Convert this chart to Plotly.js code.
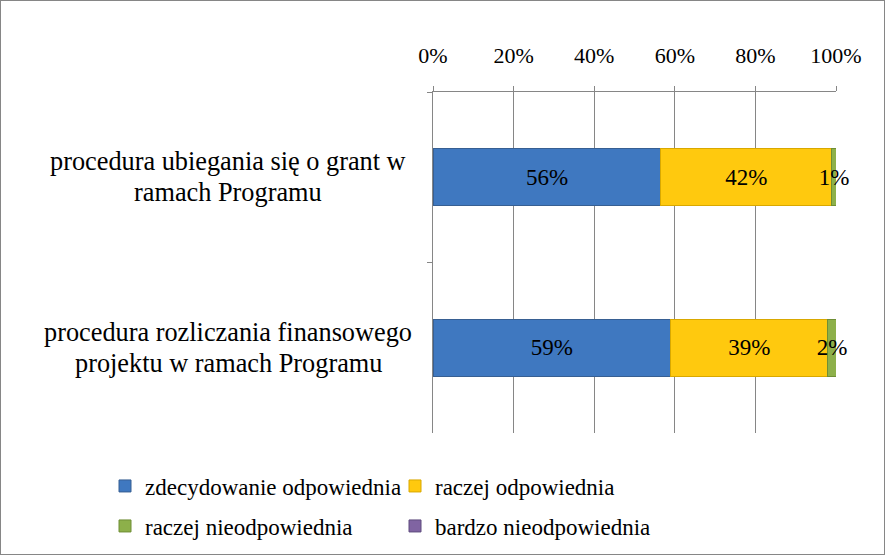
<!DOCTYPE html>
<html>
<head>
<meta charset="utf-8">
<script src="https://cdn.plot.ly/plotly-3.0.1.min.js"></script>
<style>
  body { margin: 0; background: #fff; }
  #chart { width: 885px; height: 555px; border: 1px solid #868686; box-sizing: border-box; }
</style>
</head>
<body>
<div id="chart"></div>
<script>
// categories, top to bottom
const categories = [
    'procedura ubiegania się o grant w<br>ramach Programu',
    'procedura rozliczania finansowego<br>projektu w ramach Programu'
];

// series names
const seriesNames = [
    'zdecydowanie odpowiednia',
    'raczej odpowiednia',
    'raczej nieodpowiednia',
    'bardzo nieodpowiednia'
];

// percentages per series, one value per category
const zdecydowanieOdp = [56, 59];
const raczejOdp = [42, 39];
const raczejNieodp = [1, 2];
const bardzoNieodp = [0, 0];

const seriesValues = [zdecydowanieOdp, raczejOdp, raczejNieodp, bardzoNieodp];
const seriesColors = ['#3F78C0', '#FFC90E', '#8DB04A', '#8064A2'];
const seriesLines = ['#375F92', '#D9A800', '#6F8E35', '#5F4B7E'];

const xTicks = [0, 20, 40, 60, 80, 100];

const SERIF = '"Liberation Serif", "Times New Roman", "DejaVu Serif", serif';
const mkFont = (size) => ({ family: SERIF, size: size, color: '#000000' });

const traces = seriesNames.map((name, i) => ({
    type: 'bar',
    orientation: 'h',
    name: name,
    y: categories,
    x: seriesValues[i],
    text: seriesValues[i].map(v => v > 0 ? v + '%' : ''),
    textposition: 'inside',
    insidetextanchor: 'middle',
    textangle: 0,
    textfont: mkFont(23),
    constraintext: 'none',
    cliponaxis: false,
    hoverinfo: 'skip',
    marker: { color: seriesColors[i], line: { color: seriesLines[i], width: 1 } },
    legend: i < 2 ? 'legend' : 'legend2'
}));

// category labels drawn as centred annotations, one per line
const annotations = [];
categories.forEach(cat => {
    const lines = cat.split('<br>');
    lines.forEach((line, j) => {
        annotations.push({
            xref: 'paper', yref: 'y',
            x: 0, y: cat,
            xanchor: 'center', yanchor: 'middle',
            xshift: -205,
            yshift: (lines.length - 1) * 15.5 - j * 31,
            text: line,
            showarrow: false,
            font: mkFont(26.3)
        });
    });
});

const legendX = (104 - 432) / 403;

const layout = {
    width: 883,
    height: 553,
    margin: { l: 432, r: 48, t: 91, b: 121, autoexpand: false },
    paper_bgcolor: '#fff',
    plot_bgcolor: '#fff',
    barmode: 'stack',
    barnorm: 'percent',
    bargap: 0.665,
    font: mkFont(22),
    uniformtext: { mode: 'show', minsize: 23 },
    xaxis: {
        side: 'top',
        range: [0, 100],
        tickvals: xTicks,
        ticktext: xTicks.map(t => t + '%'),
        tickfont: mkFont(22),
        ticks: 'outside',
        ticklen: 5,
        tickcolor: '#868686',
        ticklabelstandoff: 14,
        showgrid: true,
        gridcolor: '#868686',
        gridwidth: 1,
        showline: true,
        linecolor: '#868686',
        zeroline: false,
        fixedrange: true
    },
    yaxis: {
        type: 'category',
        autorange: 'reversed',
        showticklabels: false,
        ticks: 'outside',
        tickson: 'boundaries',
        ticklen: 5,
        tickcolor: '#868686',
        showgrid: false,
        showline: true,
        linecolor: '#868686',
        zeroline: false,
        fixedrange: true
    },
    showlegend: true,
    legend: {
        orientation: 'h',
        x: legendX, y: -53 / 341,
        xanchor: 'left', yanchor: 'middle',
        entrywidth: 245,
        font: mkFont(23),
        traceorder: 'normal'
    },
    legend2: {
        orientation: 'h',
        x: legendX, y: -93 / 341,
        xanchor: 'left', yanchor: 'middle',
        entrywidth: 245,
        font: mkFont(23),
        traceorder: 'normal'
    },
    annotations: annotations
};

Plotly.newPlot('chart', traces, layout, { displayModeBar: false, staticPlot: true });
</script>
</body>
</html>
